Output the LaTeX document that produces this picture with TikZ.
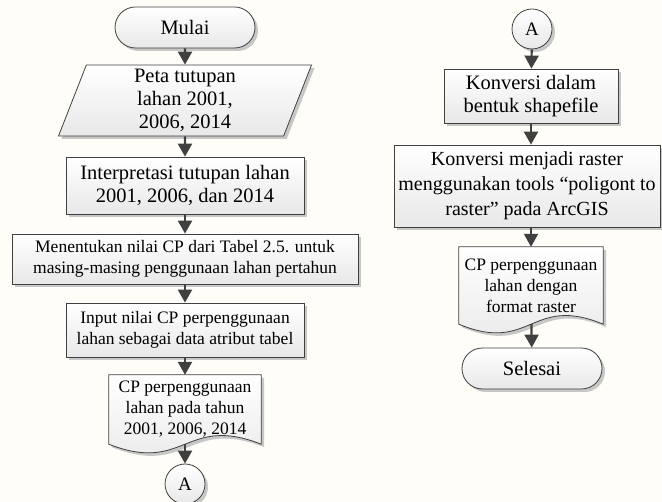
\documentclass[tikz,border=0pt]{standalone}
\usepackage{fontspec}
\setmainfont{Liberation Serif}
\usetikzlibrary{arrows.meta,shapes.geometric,shapes.misc,shadows,backgrounds,calc}
\definecolor{garis}{RGB}{64,64,64}
\definecolor{latar}{RGB}{254,253,247}

\begin{document}
\begin{tikzpicture}[x=1pt,y=-1pt,
                    isiND/.style={draw=garis,
                                  line width=0.8pt,
                                  top color=white,
                                  bottom color=black!9,
                                  drop shadow={shadow xshift=3pt,
                                               shadow yshift=-3pt,
                                               fill=black!22,
                                               opacity=1}},
                    besarND/.style={font=\fontsize{20.5}{23}\selectfont},
                    kecilND/.style={font=\fontsize{17.5}{21}\selectfont},
                    terminND/.style={isiND, besarND,
                                     rounded rectangle,
                                     minimum width=140pt,
                                     minimum height=41pt,
                                     inner sep=0pt},
                    prosesND/.style={isiND,
                                     rectangle,
                                     inner sep=0pt,
                                     align=center},
                    dataND/.style={isiND, besarND,
                                   trapezium,
                                   trapezium left angle=66,
                                   trapezium right angle=114,
                                   trapezium stretches body,
                                   minimum width=253pt,
                                   minimum height=71pt,
                                   inner sep=0pt,
                                   align=center},
                    dokND/.style={kecilND,
                                  rectangle,
                                  inner sep=0pt,
                                  align=center},
                    konND/.style={isiND,
                                  circle,
                                  minimum size=40pt,
                                  inner sep=0pt,
                                  font=\fontsize{19}{21}\selectfont},
                    panah/.style={draw=garis,
                                  line width=2.2pt,
                                  -{Triangle[length=13pt,width=14pt]}}]
    \useasboundingbox (0,0) rectangle (662,502);

    % kolom kiri
    \node[terminND](Mulai)  at (185,27.5) {Mulai};
    \node[dataND](Peta)     at (185,100.5) {Peta tutupan\\lahan 2001,\\2006, 2014};
    \node[prosesND, besarND, minimum width=238pt, minimum height=57pt]
                   (Interp) at (185,185.5) {Interpretasi tutupan lahan\\2001, 2006, dan 2014};
    \node[prosesND, kecilND, minimum width=346pt, minimum height=50pt]
                 (Tentukan) at (185,259) {Menentukan nilai CP dari Tabel 2.5. untuk\\masing-masing penggunaan lahan pertahun};
    \node[prosesND, kecilND, minimum width=238pt, minimum height=54pt]
                    (Input) at (185,330) {Input nilai CP perpenggunaan\\lahan sebagai data atribut tabel};
    \node[dokND, minimum width=152pt, minimum height=69pt]
                     (DokA) at (185,409.5) {CP perpenggunaan\\lahan pada tahun\\2001, 2006, 2014};
    \node[konND](KonA)      at (185,484) {A};

    % kolom kanan
    \node[konND](KonB)      at (532,29) {A};
    \node[prosesND, besarND, minimum width=174pt, minimum height=54pt]
                    (Konv1) at (531,96) {Konversi dalam\\bentuk shapefile};
    \node[prosesND, font=\fontsize{20}{25}\selectfont, minimum width=266pt, minimum height=82pt]
                    (Konv2) at (527,186) {Konversi menjadi raster\\menggunakan tools “poligont to\\raster” pada ArcGIS};
    \node[dokND, minimum width=144pt, minimum height=77pt]
                     (DokB) at (531,285.5) {CP perpenggunaan\\lahan dengan\\format raster};
    \node[terminND](Selesai) at (532,368.5) {Selesai};

    % bentuk dokumen
    \begin{pgfonlayer}{background}
        \fill[latar] (0,0) rectangle (662,502);
        \foreach \d in {DokA,DokB}
            \draw[isiND] (\d.north west) -- (\d.north east) -- (\d.south east)
                .. controls ($(\d.south)+(0,-30)$) and ($(\d.south)+(0,30)$) .. (\d.south west)
                -- cycle;
    \end{pgfonlayer}

    \path
        (Mulai)    edge [panah] (Peta)
        (Peta)     edge [panah] (Interp)
        (Interp)   edge [panah] (Tentukan)
        (Tentukan) edge [panah] (Input)
        (Input)    edge [panah] (DokA)
        (DokA)     edge [panah] (KonA)
        (KonB)     edge [panah] (Konv1)
        (Konv1)    edge [panah] (Konv1 |- Konv2.north)
        (Konv2.south -| DokB) edge [panah] (DokB)
        (DokB)     edge [panah] (Selesai)
        ;
\end{tikzpicture}
\end{document}
